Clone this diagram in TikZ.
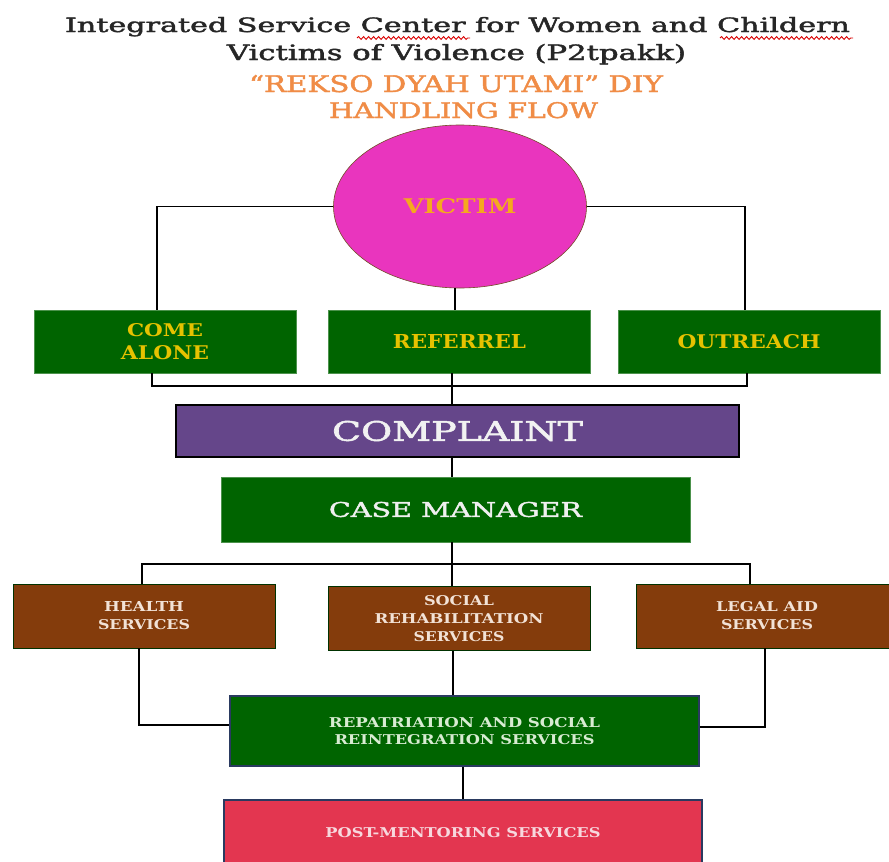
\documentclass[tikz,border=0pt]{standalone}
\usepackage{fontspec}
\setmainfont{DejaVu Serif Condensed}
\newfontfamily\tfont[FakeBold=1.6]{DejaVu Serif Condensed}
\newfontfamily\bfont{DejaVu Serif Condensed Bold}
\usepackage{graphicx}
\usetikzlibrary{shapes.geometric,decorations.pathmorphing}
\definecolor{vmag}{HTML}{E935BE}
\definecolor{vgreen}{HTML}{006400}
\definecolor{vpurple}{HTML}{65468A}
\definecolor{vbrown}{HTML}{843C0C}
\definecolor{vred}{HTML}{E33650}
\definecolor{vgold}{HTML}{E6C200}
\definecolor{vvictim}{HTML}{F5A81E}
\definecolor{vorange}{HTML}{F08C46}
\definecolor{vnavy}{HTML}{2A3A60}
\definecolor{vlightbr}{HTML}{F2E2D6}
\definecolor{vlightgr}{HTML}{D8ECD2}
\definecolor{vlightpk}{HTML}{F7D8DE}
\newcommand\fitt[3]{\resizebox{#1pt}{#2pt}{#3}}
\begin{document}
\begin{tikzpicture}[x=1pt,y=-1pt,
  conn/.style={draw=black,line width=1.3pt},
  rbox/.style={rectangle,inner sep=0pt,align=center,line width=0.6pt},
  greenbox/.style={rbox,fill=vgreen,draw=vgreen!70!white,minimum width=262pt,minimum height=63pt,text=vgold,font=\bfont\fontsize{20}{23}\selectfont},
  brownbox/.style={rbox,fill=vbrown,draw=vgreen!50!black,minimum width=262pt,minimum height=64pt,text=vlightbr,font=\bfont\fontsize{13}{18}\selectfont},
  wavy/.style={draw=red!85!black,line width=0.9pt,decorate,decoration={snake,amplitude=1.4pt,segment length=5pt}}
]
\useasboundingbox (0,0) rectangle (889,862);
\fill[white] (0,0) rectangle (889,862);

% titles
\node[anchor=base,inner sep=0pt,text=black!85,font=\tfont\fontsize{19}{23}\selectfont] (t1) at (457.5,32) {\fitt{785}{15}{Integrated Service Center for Women and Childern}};
\node[anchor=base,inner sep=0pt,text=black!85,font=\tfont\fontsize{19}{23}\selectfont] (t2) at (456.5,60) {\fitt{459}{16}{Victims of Violence (P2tpakk)}};
\node[anchor=base,inner sep=0pt,text=vorange,font=\tfont\fontsize{24}{28}\selectfont] (t3) at (456,92) {\fitt{414}{17}{“REKSO DYAH UTAMI” DIY}};
\node[anchor=base,inner sep=0pt,text=vorange,font=\tfont\fontsize{24}{28}\selectfont] (t4) at (463.5,118) {\fitt{269}{16}{HANDLING FLOW}};
\draw[wavy] (357,38) -- (470,38);
\draw[wavy] (720,38) -- (853,38);

% victim
\node[ellipse,inner sep=0pt,minimum width=253pt,minimum height=163pt,fill=vmag,draw=brown!60!black,line width=0.6pt,text=vvictim,font=\bfont\fontsize{22}{26}\selectfont] (victim) at (460,206.5) {\fitt{113}{15}{VICTIM}};

% row 1
\node[greenbox] (alone) at (165,341.5) {\fitt{76}{13}{COME}\\\fitt{88}{14}{ALONE}};
\node[greenbox] (referrel) at (459.5,341.5) {\fitt{133}{14}{REFERREL}};
\node[greenbox] (outreach) at (749,341.5) {\fitt{143}{14}{OUTREACH}};

% complaint & case manager
\node[rbox,fill=vpurple,draw=black,line width=1.2pt,minimum width=563pt,minimum height=52pt,text=white!95!black,font=\tfont\fontsize{27}{30}\selectfont] (complaint) at (457.5,431) {\fitt{251}{20}{COMPLAINT}};
\node[rbox,fill=vgreen,draw=vgreen!70!white,minimum width=469pt,minimum height=65pt,text=white!94!black,font=\tfont\fontsize{20}{24}\selectfont] (casemgr) at (455.5,509.5) {\fitt{253}{15}{CASE MANAGER}};

% row 2
\node[brownbox] (health) at (144,616) {\fitt{80}{10}{HEALTH}\\\fitt{92}{10}{SERVICES}};
\node[brownbox] (social) at (459,618.5) {\fitt{70}{10}{SOCIAL}\\\fitt{169}{10}{REHABILITATION}\\\fitt{91}{10}{SERVICES}};
\node[brownbox] (legal) at (767,616) {\fitt{102}{10}{LEGAL AID}\\\fitt{92}{10}{SERVICES}};

% repatriation & post
\node[rbox,fill=vgreen,draw=vnavy,line width=1.2pt,minimum width=469pt,minimum height=70pt,text=vlightgr,font=\bfont\fontsize{13}{17}\selectfont] (repat) at (464.5,731) {\fitt{271}{10}{REPATRIATION AND SOCIAL}\\\fitt{260}{10}{REINTEGRATION SERVICES}};
\node[rbox,fill=vred,draw=vnavy,line width=1.2pt,minimum width=478pt,minimum height=66pt,text=vlightpk,font=\bfont\fontsize{13}{17}\selectfont] (post) at (463,833) {\fitt{275}{10}{POST-MENTORING SERVICES}};

% connectors
\coordinate (bus1) at (452,386);
\coordinate (bus2) at (452,564);
\draw[conn] (victim.west) -| ([xshift=-8pt]alone.north);
\draw[conn] (victim.east) -| ([xshift=-4pt]outreach.north);
\draw[conn] ([xshift=-5pt]victim.south) -- ([xshift=-5pt]victim.south |- referrel.north);
\draw[conn] ([xshift=-13pt]alone.south) |- (bus1) -| ([xshift=-2pt]outreach.south);
\draw[conn] (referrel.south -| bus1) -- (complaint.north -| bus1);
\draw[conn] (complaint.south -| bus1) -- (casemgr.north -| bus1);
\draw[conn] (casemgr.south -| bus2) -- (bus2);
\draw[conn] ([xshift=-2pt]health.north) |- (bus2) -| ([xshift=-17pt]legal.north);
\draw[conn] (bus2) -- (social.north -| bus2);
\draw[conn] ([xshift=-5pt]health.south) |- ([yshift=6pt]repat.west);
\draw[conn] ([xshift=-2pt]legal.south) |- ([yshift=4pt]repat.east);
\draw[conn] ([xshift=-6pt]social.south) -- ([xshift=-6pt]social.south |- repat.north);
\draw[conn] (repat.south -| post.north) -- (post.north);
\end{tikzpicture}
\end{document}
